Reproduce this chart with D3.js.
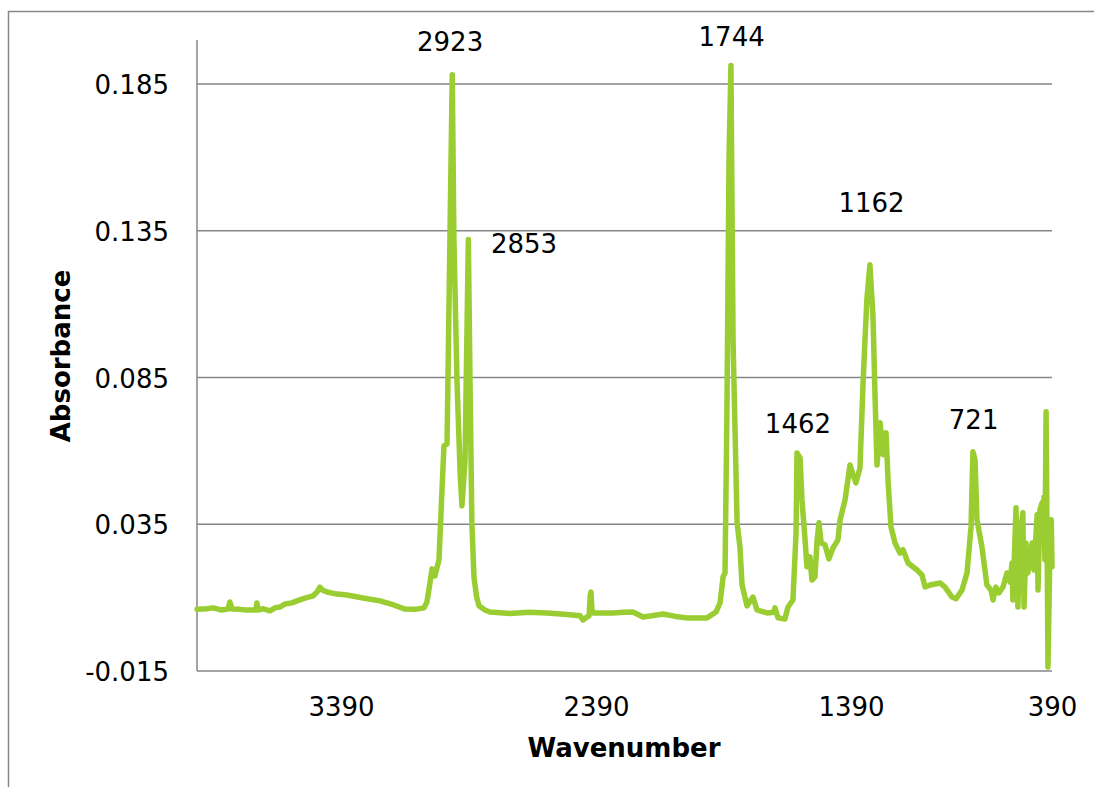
<!DOCTYPE html>
<html>
<head>
<meta charset="utf-8">
<script src="https://cdn.jsdelivr.net/npm/d3@7"></script>
<style>
  html, body { margin: 0; padding: 0; background: #ffffff; }
  svg { display: block; font-family: "DejaVu Sans", Verdana, sans-serif; }
</style>
</head>
<body>
<svg id="chart" width="1094" height="787"></svg>
<script>
// ---- data ----
const wavenumbers = [4001,3960,3933,3900,3870,3862,3853,3820,3790,3752,3748,3743,3720,3693,3670,3650,3630,3600,3579,3545,3511,3495,3482,3470,3452,3410,3368,3300,3228,3170,3123,3080,3042,3030,3021,3008,2996,2979,2966,2958,2945,2937,2923,2916,2903,2890,2882,2869,2855,2848,2840,2831,2820,2810,2785,2764,2679,2600,2523,2450,2383,2371,2354,2345,2340,2337,2333,2329,2244,2200,2160,2117,2080,2033,1980,1932,1847,1809,1792,1779,1771,1763,1754,1746,1737,1720,1708,1699,1678,1653,1636,1594,1565,1560,1547,1518,1505,1484,1471,1467,1454,1446,1433,1425,1412,1404,1391,1382,1374,1365,1349,1332,1315,1294,1285,1264,1243,1230,1218,1201,1188,1172,1159,1146,1137,1129,1116,1103,1091,1082,1070,1053,1032,1019,998,960,939,926,905,863,842,812,795,770,749,732,724,715,707,686,665,648,639,627,614,597,580,567,559,555,542,534,525,513,508,500,492,474,466,453,449,441,432,428,424,420,415,411,407,398,393,390];
const absorbance = [0.0060,0.0062,0.0065,0.0058,0.0061,0.0085,0.0061,0.0060,0.0058,0.0058,0.0082,0.0058,0.0062,0.0055,0.0066,0.0068,0.0078,0.0082,0.0089,0.0098,0.0106,0.0118,0.0136,0.0125,0.0119,0.0112,0.0109,0.0099,0.0089,0.0075,0.0061,0.0060,0.0065,0.0085,0.0130,0.0198,0.0174,0.0229,0.0471,0.0617,0.0624,0.1081,0.1882,0.1323,0.0839,0.0532,0.0413,0.0570,0.1320,0.0839,0.0351,0.0167,0.0102,0.0072,0.0058,0.0051,0.0046,0.0050,0.0048,0.0043,0.0038,0.0024,0.0034,0.0038,0.0110,0.0119,0.0060,0.0048,0.0048,0.0050,0.0051,0.0034,0.0038,0.0044,0.0036,0.0031,0.0031,0.0051,0.0082,0.0171,0.0184,0.0726,0.1596,0.1913,0.0975,0.0355,0.0273,0.0143,0.0072,0.0102,0.0058,0.0048,0.0050,0.0065,0.0031,0.0027,0.0068,0.0092,0.0321,0.0593,0.0576,0.0433,0.0297,0.0205,0.0239,0.0160,0.0171,0.0297,0.0355,0.0286,0.0280,0.0232,0.0269,0.0297,0.0365,0.0433,0.0552,0.0518,0.0491,0.0542,0.0832,0.1115,0.1234,0.1057,0.0774,0.0552,0.0696,0.0587,0.0662,0.0491,0.0341,0.0286,0.0252,0.0263,0.0218,0.0194,0.0177,0.0136,0.0143,0.0150,0.0136,0.0102,0.0096,0.0126,0.0184,0.0341,0.0597,0.0570,0.0365,0.0273,0.0143,0.0126,0.0092,0.0136,0.0116,0.0136,0.0184,0.0153,0.0218,0.0092,0.0406,0.0068,0.0307,0.0389,0.0068,0.0286,0.0184,0.0286,0.0194,0.0382,0.0126,0.0399,0.0423,0.0341,0.0443,0.0229,0.0733,0.0321,-0.0136,0.0297,0.0365,0.0205];

const yTicks = [-0.015, 0.035, 0.085, 0.135, 0.185];
const yTickLabels = ["-0.015", "0.035", "0.085", "0.135", "0.185"];
// wavenumbers at which the category labels sit, and their printed text
const xTickPositions = [3393, 2316, 1239, 390];
const xTickLabels = ["3390", "2390", "1390", "390"];

const peakLabels = ["2923", "2853", "1744", "1462", "1162", "721"];
const peakLabelX = [2932, 2620, 1743, 1463, 1152, 721];
const peakLabelY = [0.1961, 0.1275, 0.1978, 0.0662, 0.1415, 0.0675];

const xDomain = [4001, 390];
const yDomain = [-0.015, 0.2];

// ---- layout ----
const svg = d3.select("#chart");
const plot = { left: 197, right: 1052, top: 40, bottom: 671 };
const gridColor = "#868686";
const lineColor = "#9ACD32";
const fontSize = 26;

// chart border (extends past the right/bottom edges as in the reference)
svg.append("rect")
  .attr("x", 8.5).attr("y", 11.5)
  .attr("width", 1200).attr("height", 900)
  .attr("fill", "none").attr("stroke", gridColor).attr("stroke-width", 1.5);

const x = d3.scaleLinear().domain(xDomain).range([plot.left, plot.right]);
const y = d3.scaleLinear().domain(yDomain).range([plot.bottom, plot.top]);

// gridlines
svg.append("g")
  .selectAll("line")
  .data(yTicks.filter(d => d !== yDomain[0]))
  .join("line")
  .attr("x1", plot.left).attr("x2", plot.right)
  .attr("y1", d => y(d)).attr("y2", d => y(d))
  .attr("stroke", gridColor).attr("stroke-width", 1.5);

// y axis
const yAxis = svg.append("g")
  .attr("transform", `translate(${plot.left},0)`)
  .call(d3.axisLeft(y).tickValues(yTicks).tickFormat((d, i) => yTickLabels[i]).tickSize(0).tickPadding(28));
yAxis.select(".domain").attr("stroke", gridColor).attr("stroke-width", 1.5)
  .attr("d", `M0,${plot.top}V${plot.bottom}`);
yAxis.selectAll("text").attr("font-size", fontSize).attr("font-family", "DejaVu Sans").attr("fill", "#000").attr("dy", "0.37em");

// x axis
const xAxis = svg.append("g")
  .attr("transform", `translate(0,${plot.bottom})`)
  .call(d3.axisBottom(x).tickValues(xTickPositions).tickFormat((d, i) => xTickLabels[i]).tickSize(0).tickPadding(27));
xAxis.select(".domain").attr("stroke", gridColor).attr("stroke-width", 1.5)
  .attr("d", `M${plot.left},0H${plot.right}`);
xAxis.selectAll("text").attr("font-size", fontSize).attr("font-family", "DejaVu Sans").attr("fill", "#000");

// spectrum line
const points = wavenumbers.map((w, i) => [w, absorbance[i]]);
svg.append("path")
  .datum(points)
  .attr("fill", "none")
  .attr("stroke", lineColor)
  .attr("stroke-width", 5.5)
  .attr("stroke-linejoin", "round")
  .attr("stroke-linecap", "round")
  .attr("d", d3.line().x(d => x(d[0])).y(d => y(d[1])));

// peak annotations
svg.append("g")
  .selectAll("text")
  .data(peakLabels)
  .join("text")
  .attr("x", (d, i) => x(peakLabelX[i]))
  .attr("y", (d, i) => y(peakLabelY[i]))
  .attr("text-anchor", "middle")
  .attr("font-size", fontSize)
  .attr("fill", "#000")
  .text(d => d);

// axis titles
svg.append("text")
  .attr("x", (plot.left + plot.right) / 2 - 0.5)
  .attr("y", 757)
  .attr("text-anchor", "middle")
  .attr("font-size", fontSize)
  .attr("font-weight", "bold")
  .attr("fill", "#000")
  .text("Wavenumber");

svg.append("text")
  .attr("transform", `translate(70,356) rotate(-90)`)
  .attr("text-anchor", "middle")
  .attr("font-size", fontSize)
  .attr("font-weight", "bold")
  .attr("fill", "#000")
  .text("Absorbance");
</script>
</body>
</html>
